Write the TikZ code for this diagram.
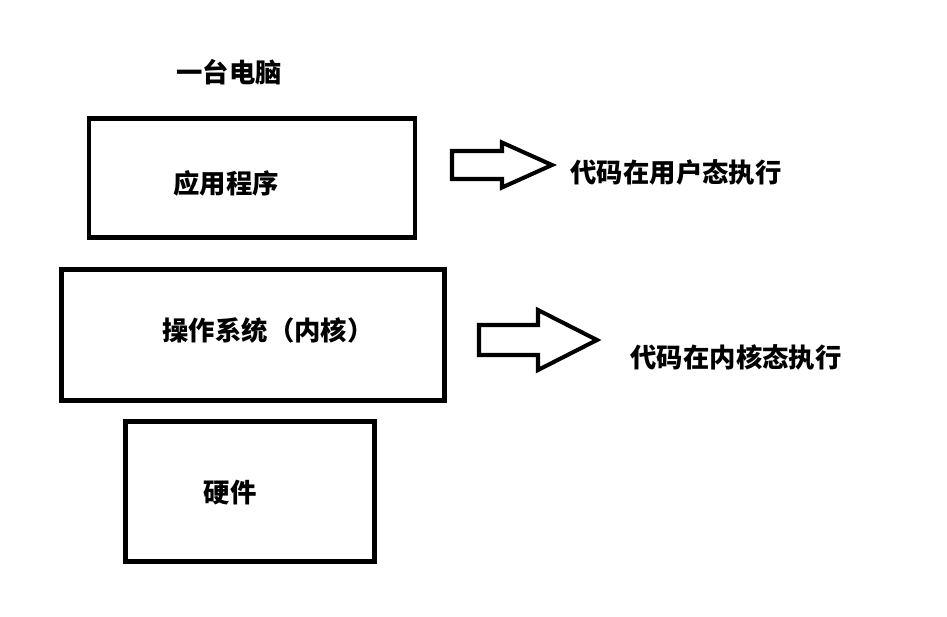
\documentclass[tikz,border=0pt]{standalone}
\usepackage{fontspec}
\newfontfamily\cjk{Noto Sans CJK SC}

\newcommand{\blockarrow}[5]{% x, y, shaft half width, head half width, half length
  \draw[arrowline] (#1,#2-#3) -- (#1+#5,#2-#3) -- (#1+#5,#2-#4) -- (#1+2*#5,#2)
    -- (#1+#5,#2+#4) -- (#1+#5,#2+#3) -- (#1,#2+#3) -- cycle;
}

\begin{document}
\begin{tikzpicture}[x=0.02cm, y=-0.02cm, every node/.style={font=\cjk\bfseries\fontsize{15}{18}\selectfont, inner sep=0pt}]
    \tikzset{box/.style={draw, line width=2.8pt},
             arrowline/.style={line width=2.3pt}}
    \useasboundingbox (0,0) rectangle (947,616);

    \node (pc) at (229,72) {一台电脑};

    \draw[box] (89,118.5) rectangle (415,237.5);
    \draw[box] (61.5,269.5) rectangle (444.5,400.5);
    \draw[box] (125.5,421.5) rectangle (374.5,561.5);

    \node (app) at (226,183) {应用程序};
    \node (os) at (268,330) {操作系统（内核）};
    \node (hw) at (230,493) {硬件};

    \blockarrow{452}{165}{14}{22.5}{50}
    \blockarrow{479}{340}{15}{30}{59}

    \node (user) at (676,172) {代码在用户态执行};
    \node (kernel) at (736,357) {代码在内核态执行};
\end{tikzpicture}
\end{document}
